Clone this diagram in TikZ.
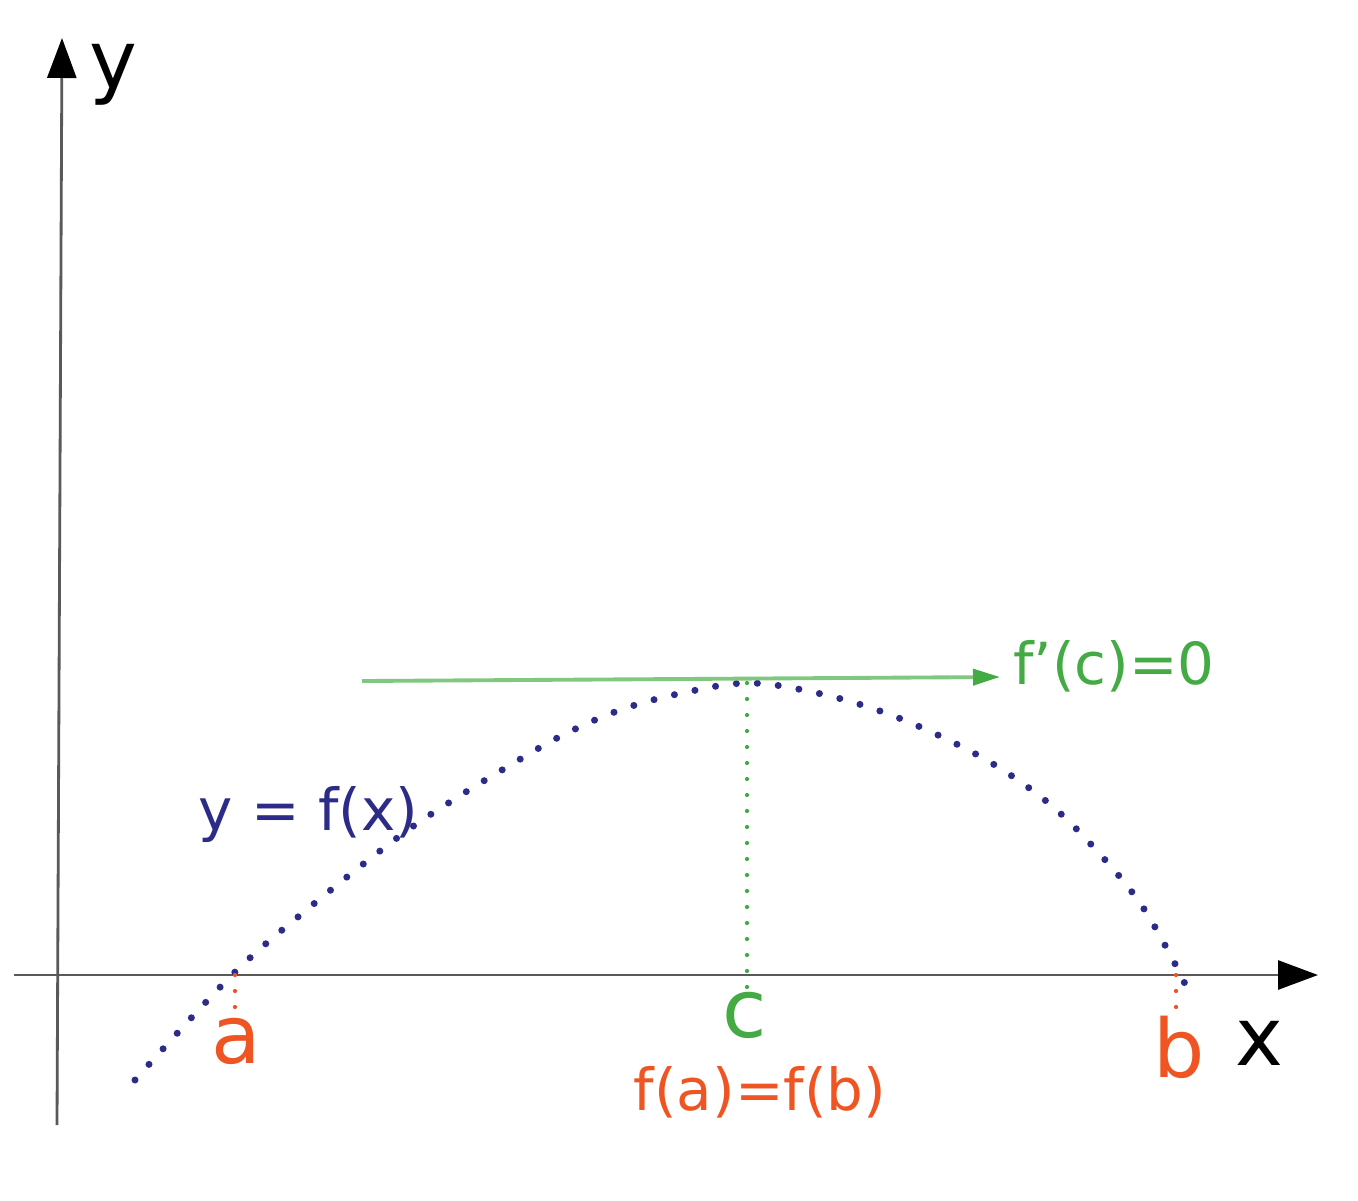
\documentclass[tikz,border=0pt]{standalone}
\usepackage{fontspec}
\setmainfont{DejaVu Sans}
\usetikzlibrary{arrows.meta}
\definecolor{navy}{HTML}{2C2C88}
\definecolor{orng}{HTML}{EE5522}
\definecolor{grn}{HTML}{44AA44}
\definecolor{lgrn}{HTML}{80C880}
\begin{document}
\begin{tikzpicture}[x=0.02cm,y=-0.02cm,
  axis/.style={draw=black!65,line width=1.6pt,-{Triangle[length=0.8cm,width=0.58cm,color=black]}},
  curve/.style={draw=navy,line width=4pt,line cap=round,dash pattern=on 0pt off 0.42cm},
  gdots/.style={draw=grn,line width=2.4pt,line cap=round,dash pattern=on 0pt off 0.32cm},
  odots/.style={draw=orng,line width=2.4pt,line cap=round,dash pattern=on 0pt off 0.32cm},
  tangent/.style={draw=lgrn,line width=2.2pt,-{Triangle[length=0.54cm,width=0.32cm,color=grn]}},
  big/.style={font=\fontsize{46}{50}\selectfont,inner sep=0pt,anchor=base},
  mid/.style={font=\fontsize{33}{38}\selectfont,inner sep=0pt}]
\useasboundingbox (0,0) rectangle (1358,1200);
% axes
\coordinate (yb) at (57,1125);
\coordinate (yt) at (62,38);
\coordinate (xl) at (14,975);
\coordinate (xr) at (1318,975);
\draw[axis] (yb) -- (yt);
\draw[axis] (xl) -- (xr);
\node[big] (ylab) at (113,88) {y};
\node[big] (xlab) at (1259,1065) {x};
% key points
\coordinate (A) at (235,975);
\coordinate (B) at (1176,975);
\coordinate (C) at (747,683);
\coordinate (Cx) at (747,975);
\coordinate (Aend) at (235,1010);
\coordinate (Bend) at (1176,1010);
\coordinate (Cend) at (747,990);
\coordinate (T0) at (362,681);
\coordinate (T1) at (1000,677);
% curve
\draw[curve] plot[smooth,tension=0.6] coordinates {(135,1080) (232,975) (310,907) (397,838) (450,802) (507,767) (563,735) (623,709) (687,692) (750,683) (817,693) (880,711) (940,736) (998,767) (1052,806) (1098,852) (1140,903) (1173,960) (1192,999)};
% tangent and drop lines
\draw[tangent] (T0) -- (T1);
\draw[gdots] (C) -- (Cend);
\draw[odots] (A) -- (Aend);
\draw[odots] (B) -- (Bend);
% labels
\node[big,text=orng] (alab) at (236,1063) {a};
\node[big,text=orng] (blab) at (1179,1077) {b};
\node[big,text=grn] (clab) at (745,1037) {c};
\node[mid,text=orng,anchor=base] (fab) at (760,1110) {f(a)=f(b)};
\node[mid,text=grn,anchor=base west] (fc) at (1013,684) {f’(c)=0};
\node[mid,text=navy,anchor=base west] (fx) at (198,830) {y = f(x)};
\end{tikzpicture}
\end{document}
